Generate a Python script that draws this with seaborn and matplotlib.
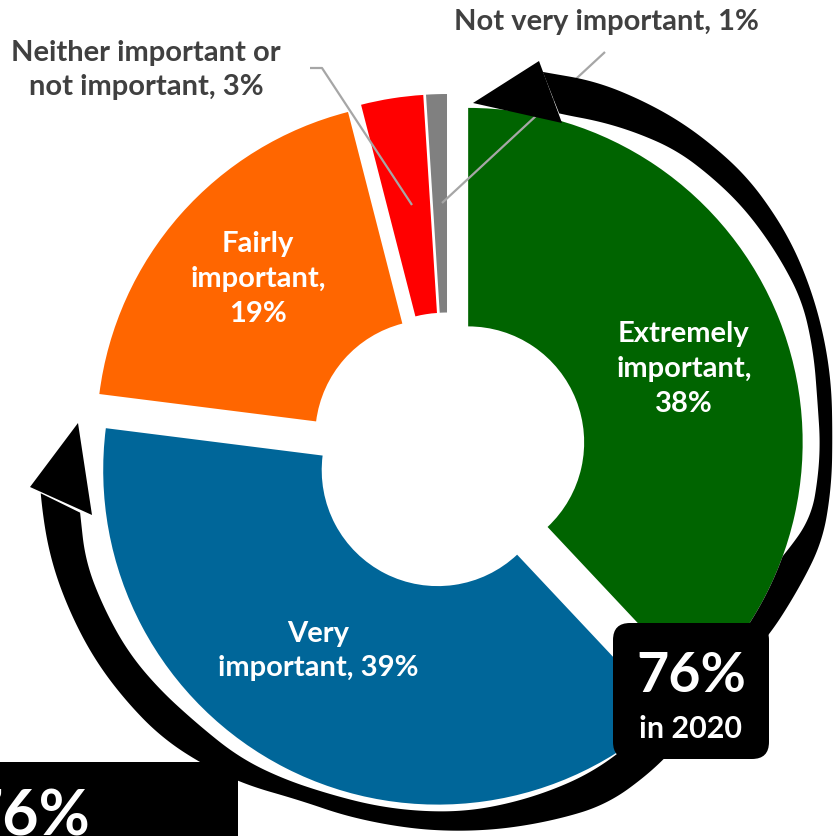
import numpy as np
import matplotlib
matplotlib.use("Agg")
import matplotlib.pyplot as plt
import seaborn as sns
from matplotlib.patches import Polygon, FancyBboxPatch, Rectangle

# ---- data -------------------------------------------------------------
categories = ["Extremely important", "Very important", "Fairly important",
              "Neither important or not important", "Not very important"]
shares = [38, 39, 19, 3, 1]
label_templates = ["Extremely\nimportant,\n{}%", "Very\nimportant, {}%",
                   "Fairly\nimportant,\n{}%", "Neither important or\nnot important, {}%",
                   "Not very important, {}%"]
slice_colors = ["#006400", "#006699", "#FF6600", "#FF0000", "#808080"]
label_colors = ["white", "white", "white", "#404040", "#404040"]
top_two_total = "76%"
top_two_year = "in 2020"

# ---- canvas (data units == pixels, y pointing up) ----------------------
W, H = 833, 836
sns.set_theme(style="white")
plt.rcParams["font.family"] = ["Lato", "DejaVu Sans"]

fig = plt.figure(figsize=(W / 100, H / 100), dpi=100)
ax = fig.add_axes([0, 0, 1, 1])


def px(x, y):
    """pixel position (origin top-left) -> data coordinates"""
    return x, H - y


CX, CY = px(447.7, 450.5)
R = 334.5
HOLE = 116
GAP = 22

wedges, _ = ax.pie(shares, colors=slice_colors, startangle=90, counterclock=False,
                   explode=[GAP] * len(shares), radius=R, center=(CX, CY),
                   wedgeprops=dict(width=R - HOLE, linewidth=0))
for w in wedges:
    w.set_zorder(1)
ax.set_xlim(0, W)
ax.set_ylim(0, H)
ax.set_aspect("equal")
ax.axis("off")

# mid-angle of every slice (same convention as the pie above)
fracs = np.array(shares, dtype=float) / sum(shares)
starts = 0.25 - np.concatenate([[0], np.cumsum(fracs)[:-1]])
mids = 2 * np.pi * (starts - fracs / 2)


def slice_outer(theta_deg, i):
    """distance from pie centre to the outer rim of exploded slice i along theta"""
    t = np.radians(theta_deg)
    dx, dy = GAP * np.cos(mids[i]), GAP * np.sin(mids[i])
    du = dx * np.cos(t) + dy * np.sin(t)
    return du + np.sqrt(R ** 2 - GAP ** 2 + du ** 2)


def smooth_edge(th_pts, r_pts, th_grid, win=25):
    r = np.interp(th_grid, th_pts, r_pts)
    pad = win // 2
    rp = np.concatenate([np.full(pad, r[0]), r, np.full(pad, r[-1])])
    return np.convolve(rp, np.ones(win) / win, mode="valid")


def polar(th, r):
    t = np.radians(th)
    return np.column_stack([CX + r * np.cos(t), CY + r * np.sin(t)])


def curved_shaft(o_th, o_r, i_th, i_r, slice_idx):
    tho = np.linspace(o_th[0], o_th[-1], 400)
    thi = np.linspace(i_th[0], i_th[-1], 400)
    ro = smooth_edge(o_th, o_r, tho)
    ri = np.maximum(smooth_edge(i_th, i_r, thi), slice_outer(thi, slice_idx))
    return np.vstack([polar(tho, ro), polar(thi, ri)[::-1]])


# right-hand arrow hugging the "Extremely important" slice
right_outer_th = [-38, -29.6, -23.1, -13.5, 2.5, 17.3, 31.5, 42.4, 54.7, 68, 75.9]
right_outer_r = [362, 370.4, 375, 384.7, 384.4, 392.8, 401.3, 404.9, 402.5, 397, 389.5]
right_inner_th = [-38, -20, -10.4, 0, 7.7, 22.9, 40, 52.6, 62, 71.7]
right_inner_r = [330, 345, 369, 372, 372.4, 384, 382, 377, 366, 354]
shaft_r = curved_shaft(right_outer_th, right_outer_r, right_inner_th, right_inner_r, 0)
ax.add_patch(Polygon(shaft_r, closed=True, facecolor="black", edgecolor="none", zorder=3))
head_r = [px(473, 103), px(539, 61), px(562, 123)]
ax.add_patch(Polygon(head_r, closed=True, facecolor="black", edgecolor="none", zorder=3))

# left-hand arrow hugging the "Very important" slice
left_outer_th = [314, 304.7, 294.2, 283.9, 272.9, 260, 246.8, 236.3, 225.2, 210.9, 195.6, 186]
left_outer_r = [365, 377.3, 387.2, 383.2, 380.5, 378.5, 379, 393, 404.5, 409.5, 411, 409]
left_inner_th = [314, 293.8, 273, 251, 236.5, 227.1, 212.6, 196.9, 189.6]
left_inner_r = [335, 352, 360.5, 362.7, 370, 370, 377, 378, 372]
shaft_l = curved_shaft(left_outer_th[::-1], left_outer_r[::-1],
                       left_inner_th[::-1], left_inner_r[::-1], 1)
ax.add_patch(Polygon(shaft_l, closed=True, facecolor="black", edgecolor="none", zorder=3))
head_l = [px(78, 423), px(30, 487), px(92, 515)]
ax.add_patch(Polygon(head_l, closed=True, facecolor="black", edgecolor="none", zorder=3))

# leader lines for the two thin slices
lead_neither = np.array([px(310, 68), px(322, 68), px(412, 205)])
lead_notvery = np.array([px(605, 52), px(442, 203)])
for seg in (lead_neither, lead_notvery):
    ax.plot(seg[:, 0], seg[:, 1], color="#A6A6A6", lw=1.6, zorder=2,
            solid_capstyle="butt")

# slice labels
label_pos = [px(684, 369), px(318, 651), px(258, 279), px(146, 70), px(606, 22)]
for tmpl, val, (lx, ly), col in zip(label_templates, shares, label_pos, label_colors):
    ax.text(lx, ly, tmpl.format(val), ha="center", va="center", color=col,
            fontsize=21, fontweight="bold", linespacing=1.42, zorder=5)

# call-out box with the combined share
bx0, by0 = px(613, 759)
ax.add_patch(FancyBboxPatch((bx0, by0), 156, 136,
                            boxstyle="round,pad=0,rounding_size=17",
                            facecolor="black", edgecolor="none", zorder=4))
ax.text(691, H - 692, top_two_total, ha="center", va="baseline", color="white",
        fontsize=40, fontweight="bold", zorder=5)
ax.text(691, H - 738, top_two_year, ha="center", va="baseline", color="white",
        fontsize=22, fontweight="bold", zorder=5)

# second call-out running off the lower-left corner
ax.add_patch(Rectangle((-10, -20), 248, H - 762 + 20, facecolor="black",
                       edgecolor="none", zorder=4, clip_on=False))
ax.text(90, H - 835, top_two_total, ha="right", va="baseline", color="white",
        fontsize=45, fontweight="bold", zorder=5)

fig.savefig("out.png", dpi=100)
